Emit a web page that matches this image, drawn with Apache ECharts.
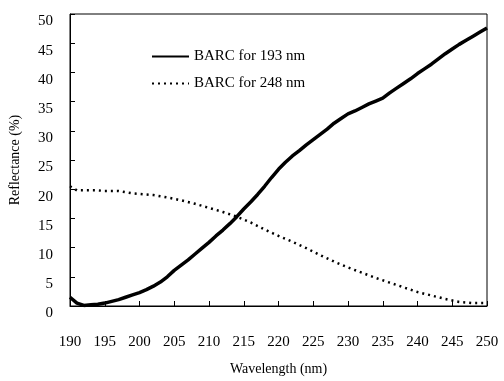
<!DOCTYPE html>
<html>
<head>
<meta charset="utf-8">
<script src="https://cdn.jsdelivr.net/npm/echarts@6/dist/echarts.min.js"></script>
<style>
  html, body { margin: 0; padding: 0; background: #fff; }
  #chart { width: 504px; height: 381px; }
</style>
</head>
<body>
<div id="chart"></div>
<script>
// wavelength (nm) and reflectance (%)
const wl193 = [190, 191, 192, 193, 194, 195, 196, 197, 198, 199, 200, 201, 202, 203, 204, 205,
  206, 207, 208, 209, 210, 211, 212, 213, 214, 215, 216, 217, 218, 219, 220, 221, 222, 223, 224,
  225, 226, 227, 228, 229, 230, 231, 232, 233, 234, 235, 236, 237, 238, 239, 240, 241, 242, 243,
  244, 245, 246, 247, 248, 249, 250]
const r193 = [1.5, 0.5, 0.1, 0.2, 0.3, 0.5, 0.8, 1.1, 1.5, 1.9, 2.3, 2.8, 3.4, 4.1, 5.0, 6.1,
  7.0, 7.9, 8.9, 9.9, 10.9, 12.0, 13.0, 14.1, 15.3, 16.6, 17.8, 19.1, 20.5, 22.0, 23.4, 24.6,
  25.7, 26.6, 27.6, 28.5, 29.4, 30.3, 31.3, 32.1, 32.9, 33.4, 34.0, 34.6, 35.1, 35.6, 36.5, 37.3,
  38.1, 38.9, 39.8, 40.6, 41.4, 42.3, 43.2, 44.0, 44.8, 45.5, 46.2, 46.9, 47.6]
const wl248 = [190, 191, 192, 193, 194, 195, 196, 197, 198, 199, 200, 202, 204, 206, 208, 210,
  212, 214, 216, 218, 220, 222, 224, 226, 228, 230, 232, 234, 236, 238, 240, 242, 244, 246, 248, 250]
const r248 = [20.5, 19.8, 19.8, 19.8, 19.8, 19.7, 19.7, 19.7, 19.5, 19.3, 19.2, 19.0, 18.6, 18.1,
  17.5, 16.8, 16.1, 15.3, 14.3, 13.1, 12.0, 11.0, 9.9, 8.7, 7.6, 6.6, 5.7, 4.8, 4.0, 3.2, 2.4,
  1.8, 1.2, 0.7, 0.5, 0.5]
const seriesNames = ['BARC for 193 nm', 'BARC for 248 nm']

const font = 'Liberation Serif'
const chart = echarts.init(document.getElementById('chart'))
const option = {
  backgroundColor: '#fff',
  textStyle: { fontFamily: font, color: '#000' },
  grid: {
    left: 67, right: 17, top: 14, bottom: 70,
    show: true, borderColor: '#000', borderWidth: 1
  },
  legend: {
    orient: 'vertical',
    left: 146,
    top: 44,
    itemWidth: 37,
    itemHeight: 14,
    itemGap: 12,
    itemStyle: { opacity: 0 },
    textStyle: { fontFamily: font, fontSize: 15, color: '#000' },
    data: seriesNames
  },
  xAxis: {
    type: 'value',
    min: 190,
    max: 250,
    interval: 5,
    name: 'Wavelength (nm)',
    nameLocation: 'middle',
    nameGap: 56,
    nameTextStyle: { fontFamily: font, fontSize: 14, color: '#000' },
    axisLine: { lineStyle: { color: '#000', width: 1 } },
    axisTick: { inside: true, length: 5, lineStyle: { color: '#000' } },
    axisLabel: { margin: 29, fontFamily: font, fontSize: 15, color: '#000' },
    splitLine: { show: false }
  },
  yAxis: {
    type: 'value',
    min: 0,
    max: 50,
    interval: 5,
    name: 'Reflectance (%)',
    nameLocation: 'middle',
    nameGap: 48,
    nameTextStyle: { fontFamily: font, fontSize: 14, color: '#000' },
    axisLine: { show: true, lineStyle: { color: '#000', width: 1 } },
    axisTick: { show: true, inside: true, length: 5, lineStyle: { color: '#000' } },
    axisLabel: { margin: 17, verticalAlign: 'top', fontFamily: font, fontSize: 15, color: '#000' },
    splitLine: { show: false }
  },
  series: [
    {
      name: seriesNames[0],
      type: 'line',
      symbol: 'none',
      color: '#000',
      lineStyle: { color: '#000', width: 3.5 },
      data: wl193.map((x, i) => [x, r193[i]])
    },
    {
      name: seriesNames[1],
      type: 'line',
      symbol: 'none',
      color: '#000',
      lineStyle: { color: '#000', width: 2.5, type: [2, 4] },
      data: wl248.map((x, i) => [x, r248[i]])
    }
  ]
}
chart.setOption(option)
</script>
</body>
</html>
